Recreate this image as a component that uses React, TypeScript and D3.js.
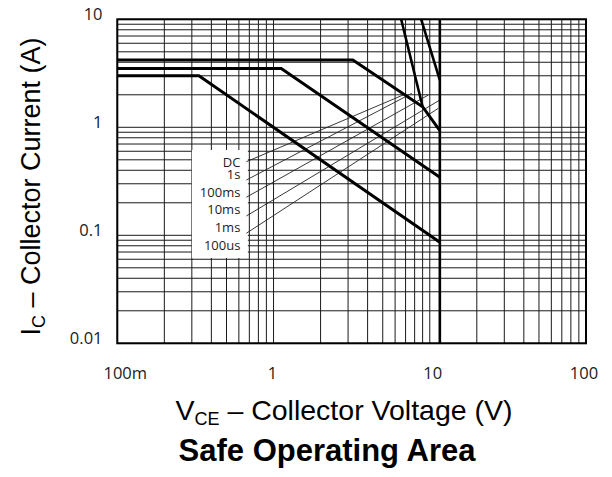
import * as d3 from "d3";

const W = 612;
const H = 477;
const M = { left: 117.3, right: 586, top: 19.3, bottom: 343.3 };

const X_TICKS = [0.1, 1, 10, 100];
const X_LABELS = ["100m", "1", "10", "100"];
const Y_TICKS = [0.01, 0.1, 1, 10];
const Y_LABELS = ["0.01", "0.1", "1", "10"];

// SOA curves (V, A)
const DC_V = [0.1, 0.333, 11.6];
const DC_I = [3, 3, 0.0862];
const S1_V = [0.1, 1.12, 11.6];
const S1_I = [3.5, 3.5, 0.345];
const MS100_V = [0.1, 3.22, 9.0, 11.6];
const MS100_I = [4.2, 4.2, 1.55, 0.93];
const MS10_V = [6.56, 9.0];
const MS10_I = [10, 1.55];
const MS1_V = [8.81, 11.6];
const MS1_I = [10, 2.74];
const VCE_MAX_V = [11.6, 11.6];
const VCE_MAX_I = [10, 0.01];

// leader lines from the labels
const LEGEND = ["DC", "1s", "100ms", "10ms", "1ms", "100us"];
const LEAD_V0 = [0.67, 0.67, 0.67, 0.67, 0.67];
const LEAD_I0 = [0.48, 0.325, 0.225, 0.151, 0.1045];
const LEAD_V1 = [6.74, 7.67, 9.79, 11.6, 11.35];
const LEAD_I1 = [1.99, 2.06, 1.99, 1.79, 1.5];

const x = d3.scaleLog().domain([0.1, 100]).range([M.left, M.right]);
const y = d3.scaleLog().domain([0.01, 10]).range([M.bottom, M.top]);

const minorTicks = (lo: number, hi: number) => {
  const out: number[] = [];
  for (let d = lo; d < hi * 0.999; d *= 10) {
    for (let k = 1; k <= 9; k++) out.push(d * k);
  }
  out.push(hi);
  return out;
};

const line = d3
  .line<[number, number]>()
  .x((d) => x(d[0]))
  .y((d) => y(d[1]));

const zip = (vs: number[], is: number[]) =>
  vs.map((v, i) => [v, is[i]] as [number, number]);

const CURVES = [
  zip(DC_V, DC_I),
  zip(S1_V, S1_I),
  zip(MS100_V, MS100_I),
  zip(MS10_V, MS10_I),
  zip(MS1_V, MS1_I),
  zip(VCE_MAX_V, VCE_MAX_I),
];

const TICK_FONT = '"Open Sans", "DejaVu Sans", sans-serif';
const TITLE_FONT = '"Liberation Sans", Arial, sans-serif';

export default function App() {
  const xs = minorTicks(0.1, 100);
  const ys = minorTicks(0.01, 10);

  const labelX = x(LEAD_V0[0]) - 6;
  const labelY0 = y(LEAD_I0[0]) + 5.6;

  return (
    <svg
      width={W}
      height={H}
      style={{ position: "absolute", left: 0, top: 0, background: "#fff" }}
    >
      <rect width={W} height={H} fill="#fff" />

      {/* grid */}
      <g stroke="#1a1a1a" strokeWidth={1}>
        {xs.map((v) => (
          <line key={"gx" + v} x1={x(v)} x2={x(v)} y1={M.top} y2={M.bottom} />
        ))}
        {ys.map((v) => (
          <line key={"gy" + v} x1={M.left} x2={M.right} y1={y(v)} y2={y(v)} />
        ))}
      </g>

      {/* label box */}
      <rect
        x={labelX - 48.5}
        y={labelY0 - 17.3}
        width={56}
        height={108}
        fill="#fff"
      />

      {/* leaders */}
      <g stroke="#222" strokeWidth={0.9}>
        {LEAD_V0.map((v, i) => (
          <line
            key={"ld" + i}
            x1={x(v)}
            y1={y(LEAD_I0[i])}
            x2={x(LEAD_V1[i])}
            y2={y(LEAD_I1[i])}
          />
        ))}
      </g>

      {/* curves */}
      <g fill="none" stroke="#000" strokeLinejoin="miter">
        {CURVES.map((c, i) => (
          <path key={"c" + i} d={line(c) ?? ""} strokeWidth={i >= 3 ? 2.6 : 3} />
        ))}
      </g>

      {/* frame */}
      <rect
        x={M.left}
        y={M.top}
        width={M.right - M.left}
        height={M.bottom - M.top}
        fill="none"
        stroke="#000"
        strokeWidth={2}
      />

      {/* legend labels */}
      <g fontFamily={TICK_FONT} fontSize={13} fill="#1c1c28" textAnchor="end">
        {LEGEND.map((t, i) => (
          <text
            key={t}
            x={labelX}
            y={i === 0 ? labelY0 : labelY0 + 11.7 + (i - 1) * 17.7}
          >
            {t}
          </text>
        ))}
      </g>

      {/* tick labels */}
      <g fontFamily={TICK_FONT} fontSize={16.5} fill="#1b1b22">
        {X_TICKS.map((v, i) => (
          <text
            key={"xt" + v}
            x={x(v) + [8, -1, 3, -2][i]}
            y={379}
            textAnchor="middle"
          >
            {X_LABELS[i]}
          </text>
        ))}
        {Y_TICKS.map((v, i) => (
          <text key={"yt" + v} x={102.5} y={y(v) + 0.5} textAnchor="end">
            {Y_LABELS[i]}
          </text>
        ))}
      </g>

      {/* axis titles */}
      <text
        x={344}
        y={420}
        textAnchor="middle"
        fontFamily={TITLE_FONT}
        fontSize={28.5}
        fill="#000"
      >
        V<tspan fontSize={18} dy={5}>CE</tspan>
        <tspan dy={-5}> – Collector Voltage (V)</tspan>
      </text>
      <text
        transform={`translate(40,186.5) rotate(-90)`}
        textAnchor="middle"
        fontFamily={TITLE_FONT}
        fontSize={27}
        fill="#000"
      >
        I<tspan fontSize={18} dy={5}>C</tspan>
        <tspan dy={-5}> – Collector Current (A)</tspan>
      </text>
      <text
        x={327}
        y={461}
        textAnchor="middle"
        fontFamily={TITLE_FONT}
        fontSize={31}
        fontWeight="bold"
        fill="#000"
      >
        Safe Operating Area
      </text>
    </svg>
  );
}
